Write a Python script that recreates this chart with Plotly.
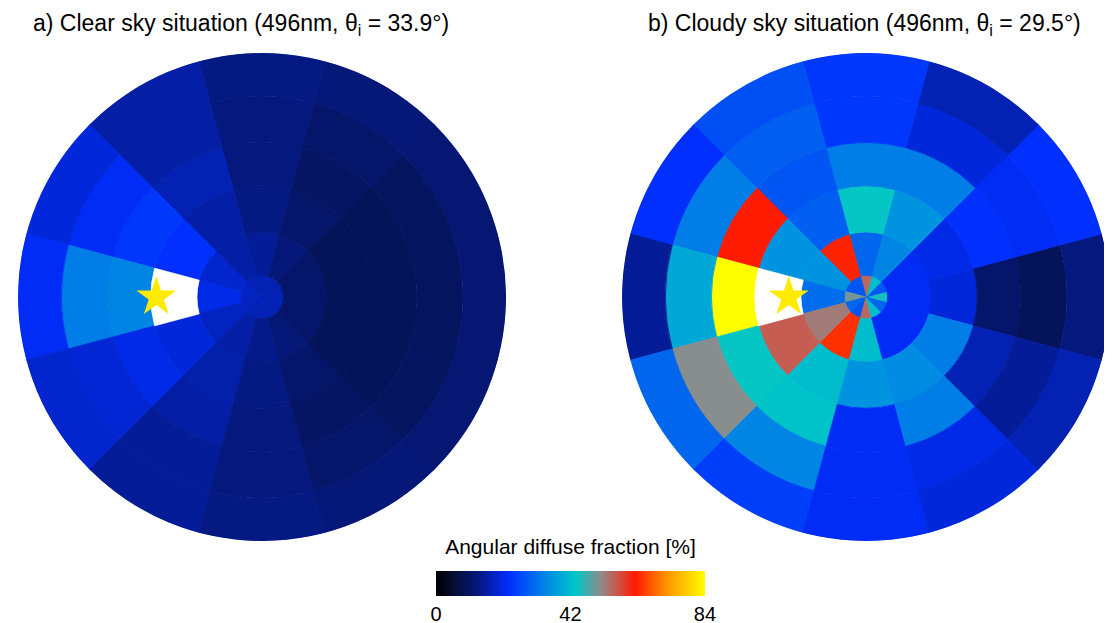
import plotly.graph_objects as go

# ---------------- data ----------------
RING_EDGES = [0, 8, 24, 41, 57, 74, 90]          # zenith-angle ring boundaries (deg)
SECTOR_CENTERS = [0, 30, 60, 90, 120, 150, 180, 210, 240, 270, 300, 330]  # azimuth (deg)
SECTOR_WIDTH = 30

# rows: rings from centre outwards; columns: sectors (values in %, >84 = over range)
CLEAR_VALUES = [
    [17, 17, 17, 17, 17, 18, 18, 18, 17, 17, 17, 17],
    [11, 11, 12.5, 15, 16, 19, 21, 18, 16, 14, 12.5, 11],
    [9.5, 9.5, 11, 13.5, 16, 23, 100, 20, 16.5, 13.5, 11, 9.5],
    [9.5, 9.5, 10.5, 13, 17, 24, 34, 21, 16, 13, 10.5, 9.5],
    [10, 10, 11, 13, 16, 22, 33, 19.5, 15, 13, 11, 10],
    [12, 12, 12.5, 13.5, 16, 20, 22, 19, 15, 13.5, 12.5, 12],
]
CLOUDY_VALUES = [
    [45, 28, 42, 55, 28, 28, 50, 30, 28, 55, 42, 30],
    [22, 22, 34, 30, 63, 36, 31, 53, 64, 42, 22, 22],
    [20, 21, 36, 44, 29, 36, 100, 56, 42, 36, 35, 33],
    [11, 23, 33, 33, 28, 62, 84, 44, 43, 22, 33, 17],
    [9.5, 22, 20, 24, 29, 33, 39, 51, 34, 22, 21, 15],
    [13, 23, 17, 24, 27, 23, 15, 30, 25, 22, 20, 17],
]
STAR_ZENITH = [39, 28.5]
STAR_AZIMUTH = [180, 180]
TITLES = ["a) Clear sky situation (496nm, θ<sub>i</sub> = 33.9°)",
          "b) Cloudy sky situation (496nm, θ<sub>i</sub> = 29.5°)"]
CMIN, CMAX = 0, 84
CBAR_TICKS = [0, 42, 84]
CBAR_TITLE = "Angular diffuse fraction [%]"

COLORSCALE = [
    [0.00, "rgb(0,0,0)"],
    [0.08, "rgb(5,15,60)"],
    [0.16, "rgb(5,25,130)"],
    [0.27, "rgb(0,45,255)"],
    [0.40, "rgb(0,130,230)"],
    [0.52, "rgb(0,200,200)"],
    [0.61, "rgb(140,140,140)"],
    [0.67, "rgb(200,90,80)"],
    [0.74, "rgb(255,25,0)"],
    [0.86, "rgb(255,150,0)"],
    [1.00, "rgb(255,255,0)"],
]

FONT = "Liberation Sans, Arial, sans-serif"
W, H = 1104, 615   # page body has an 8px margin

fig = go.Figure()

for k, values in enumerate([CLEAR_VALUES, CLOUDY_VALUES]):
    sub = "polar" if k == 0 else "polar2"
    r_in, r_w, th, val = [], [], [], []
    r_in_o, r_w_o, th_o = [], [], []
    for i, row in enumerate(values):
        for j, v in enumerate(row):
            if v > CMAX:
                r_in_o.append(RING_EDGES[i]); r_w_o.append(RING_EDGES[i + 1] - RING_EDGES[i]); th_o.append(SECTOR_CENTERS[j])
            else:
                r_in.append(RING_EDGES[i]); r_w.append(RING_EDGES[i + 1] - RING_EDGES[i]); th.append(SECTOR_CENTERS[j]); val.append(v)
    fig.add_trace(go.Barpolar(
        r=r_w, base=r_in, theta=th, width=[SECTOR_WIDTH] * len(th),
        marker=dict(color=val, coloraxis="coloraxis",
                    line=dict(width=0.8, color=val, coloraxis="coloraxis")),
        subplot=sub, showlegend=False, hoverinfo="skip"))
    if th_o:
        fig.add_trace(go.Barpolar(
            r=r_w_o, base=r_in_o, theta=th_o, width=[SECTOR_WIDTH] * len(th_o),
            marker=dict(color="white", line=dict(width=0.8, color="white")),
            subplot=sub, showlegend=False, hoverinfo="skip"))
    fig.add_trace(go.Scatterpolar(
        r=[STAR_ZENITH[k]], theta=[STAR_AZIMUTH[k]], mode="markers",
        marker=dict(symbol="star", size=30, color="rgb(255,235,0)", line=dict(width=0)),
        subplot=sub, showlegend=False, hoverinfo="skip"))

polar_common = dict(
    bgcolor="white", bargap=0, hole=0,
    radialaxis=dict(visible=False, showgrid=False, showline=False, showticklabels=False,
                    ticks="", gridcolor="rgba(0,0,0,0)", range=[0, RING_EDGES[-1]]),
    angularaxis=dict(visible=False, direction="counterclockwise", rotation=0,
                     showgrid=False, showline=False, showticklabels=False, ticks="",
                     gridcolor="rgba(0,0,0,0)"),
)

fig.update_layout(
    width=W, height=H,
    margin=dict(l=0, r=0, t=0, b=0),
    paper_bgcolor="white",
    font=dict(family=FONT, color="black"),
    polar=dict(domain=dict(x=[0.0091, 0.4511], y=[0.1333, 0.9268]), **polar_common),
    polar2=dict(domain=dict(x=[0.5562, 0.9982], y=[0.1333, 0.9268]), **polar_common),
    coloraxis=dict(
        cmin=CMIN, cmax=CMAX, colorscale=COLORSCALE,
        colorbar=dict(
            orientation="h", x=0.5095, xanchor="center", y=0.008, yanchor="bottom",
            len=0.2437, lenmode="fraction", thickness=25, thicknessmode="pixels",
            outlinewidth=0, ticks="", tickvals=CBAR_TICKS, ypad=0, xpad=0,
            tickfont=dict(size=20, family=FONT),
            title=dict(text=CBAR_TITLE, side="top", font=dict(size=21, family=FONT)),
        ),
    ),
    annotations=[
        dict(text=TITLES[0], x=0.2111, y=0.9724, xref="paper", yref="paper",
             xanchor="center", yanchor="middle",
             showarrow=False, font=dict(size=23, family=FONT)),
        dict(text=TITLES[1], x=0.7758, y=0.9724, xref="paper", yref="paper",
             xanchor="center", yanchor="middle",
             showarrow=False, font=dict(size=23, family=FONT)),
    ],
)

fig.write_html("out.html")
